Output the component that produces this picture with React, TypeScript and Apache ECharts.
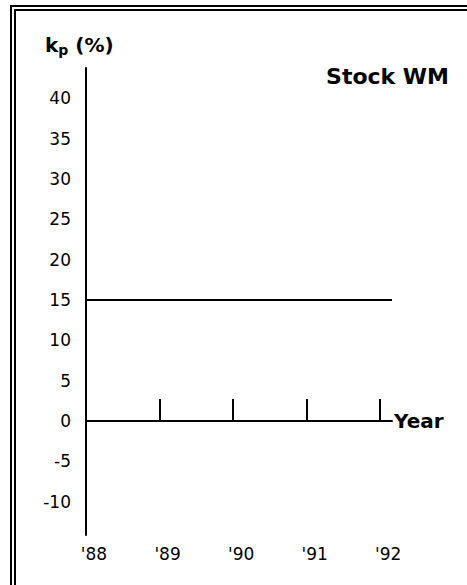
import React, { useEffect, useRef } from "react";
import * as echarts from "echarts";

// ---- data ----
const yLabelValues = [-10, -5, 0, 5, 10, 15, 20, 25, 30, 35, 40];
const yearValues = [88, 89, 90, 91, 92];
const yearTickValues = [89, 90, 91, 92];
const lineYears = [88, 92.16];
const lineReturns = [15, 15];
const yMin = -14.13;
const yMax = 43.76;
const xMin = 88;
const xMax = 92.16;
const titleText = "Stock WM";
const xName = "Year";

const FONT = "'DejaVu Sans', 'Liberation Sans', Arial, sans-serif";

export default function App() {
  const ref = useRef<HTMLDivElement>(null);
  useEffect(() => {
    if (!ref.current) return;
    const chart = echarts.init(ref.current, undefined, { renderer: "svg" });
    const lineData = lineYears.map((x, i) => [x, lineReturns[i]]);
    chart.setOption({
      animation: false,
      backgroundColor: "#ffffff",
      title: {
        text: titleText,
        right: 13,
        top: 60,
        textStyle: { fontFamily: FONT, fontWeight: "bold", fontSize: 22, color: "#000" },
      },
      graphic: [
        {
          type: "polyline",
          shape: { points: [[11, 600], [11, 6], [480, 6]] },
          style: { stroke: "#000", lineWidth: 2, fill: null },
        },
        {
          type: "polyline",
          shape: { points: [[15, 600], [15, 10], [480, 10]] },
          style: { stroke: "#000", lineWidth: 2, fill: null },
        },
        {
          type: "text",
          left: 45,
          top: 35,
          style: {
            text: "{k|k}{p|p}{k| (%)}",
            rich: {
              k: { fontFamily: FONT, fontWeight: "bold", fontSize: 20, fill: "#000" },
              p: { fontFamily: FONT, fontWeight: "bold", fontSize: 14, fill: "#000", padding: [9, 0, 0, 0] },
            },
          },
        },
      ],
      grid: { left: 86, right: 75, top: 68, bottom: 50, containLabel: false },
      xAxis: [
        {
          type: "value",
          min: xMin,
          max: xMax,
          axisLine: { show: true, onZero: true, lineStyle: { color: "#000", width: 2 } },
          axisTick: {
            show: true,
            inside: true,
            length: 22,
            customValues: yearTickValues,
            lineStyle: { color: "#000", width: 2 },
          },
          axisLabel: { show: false },
          splitLine: { show: false },
          name: xName,
          nameLocation: "end",
          nameGap: 2,
          nameTextStyle: { fontFamily: FONT, fontWeight: "bold", fontSize: 20, color: "#000", verticalAlign: "middle" },
        },
        {
          type: "value",
          min: xMin,
          max: xMax,
          position: "bottom",
          axisLine: { show: false, onZero: false },
          axisTick: { show: false },
          axisLabel: {
            show: true,
            customValues: yearValues,
            formatter: (v: number) => "'" + v,
            margin: 10,
            padding: [0, 0, 0, 16],
            fontFamily: FONT,
            fontSize: 17,
            color: "#000",
          },
          splitLine: { show: false },
        },
      ],
      yAxis: {
        type: "value",
        min: yMin,
        max: yMax,
        axisLine: { show: true, lineStyle: { color: "#000", width: 2 } },
        axisTick: { show: false },
        axisLabel: {
          show: true,
          customValues: yLabelValues,
          margin: 15,
          fontFamily: FONT,
          fontSize: 17,
          color: "#000",
        },
        splitLine: { show: false },
      },
      series: [
        {
          type: "line",
          xAxisIndex: 0,
          data: lineData,
          symbol: "none",
          lineStyle: { color: "#000", width: 2 },
          silent: true,
        },
      ],
    });
    return () => chart.dispose();
  }, []);
  return (
    <div
      ref={ref}
      style={{ position: "fixed", left: 0, top: 0, width: 467, height: 585, background: "#fff" }}
    />
  );
}
